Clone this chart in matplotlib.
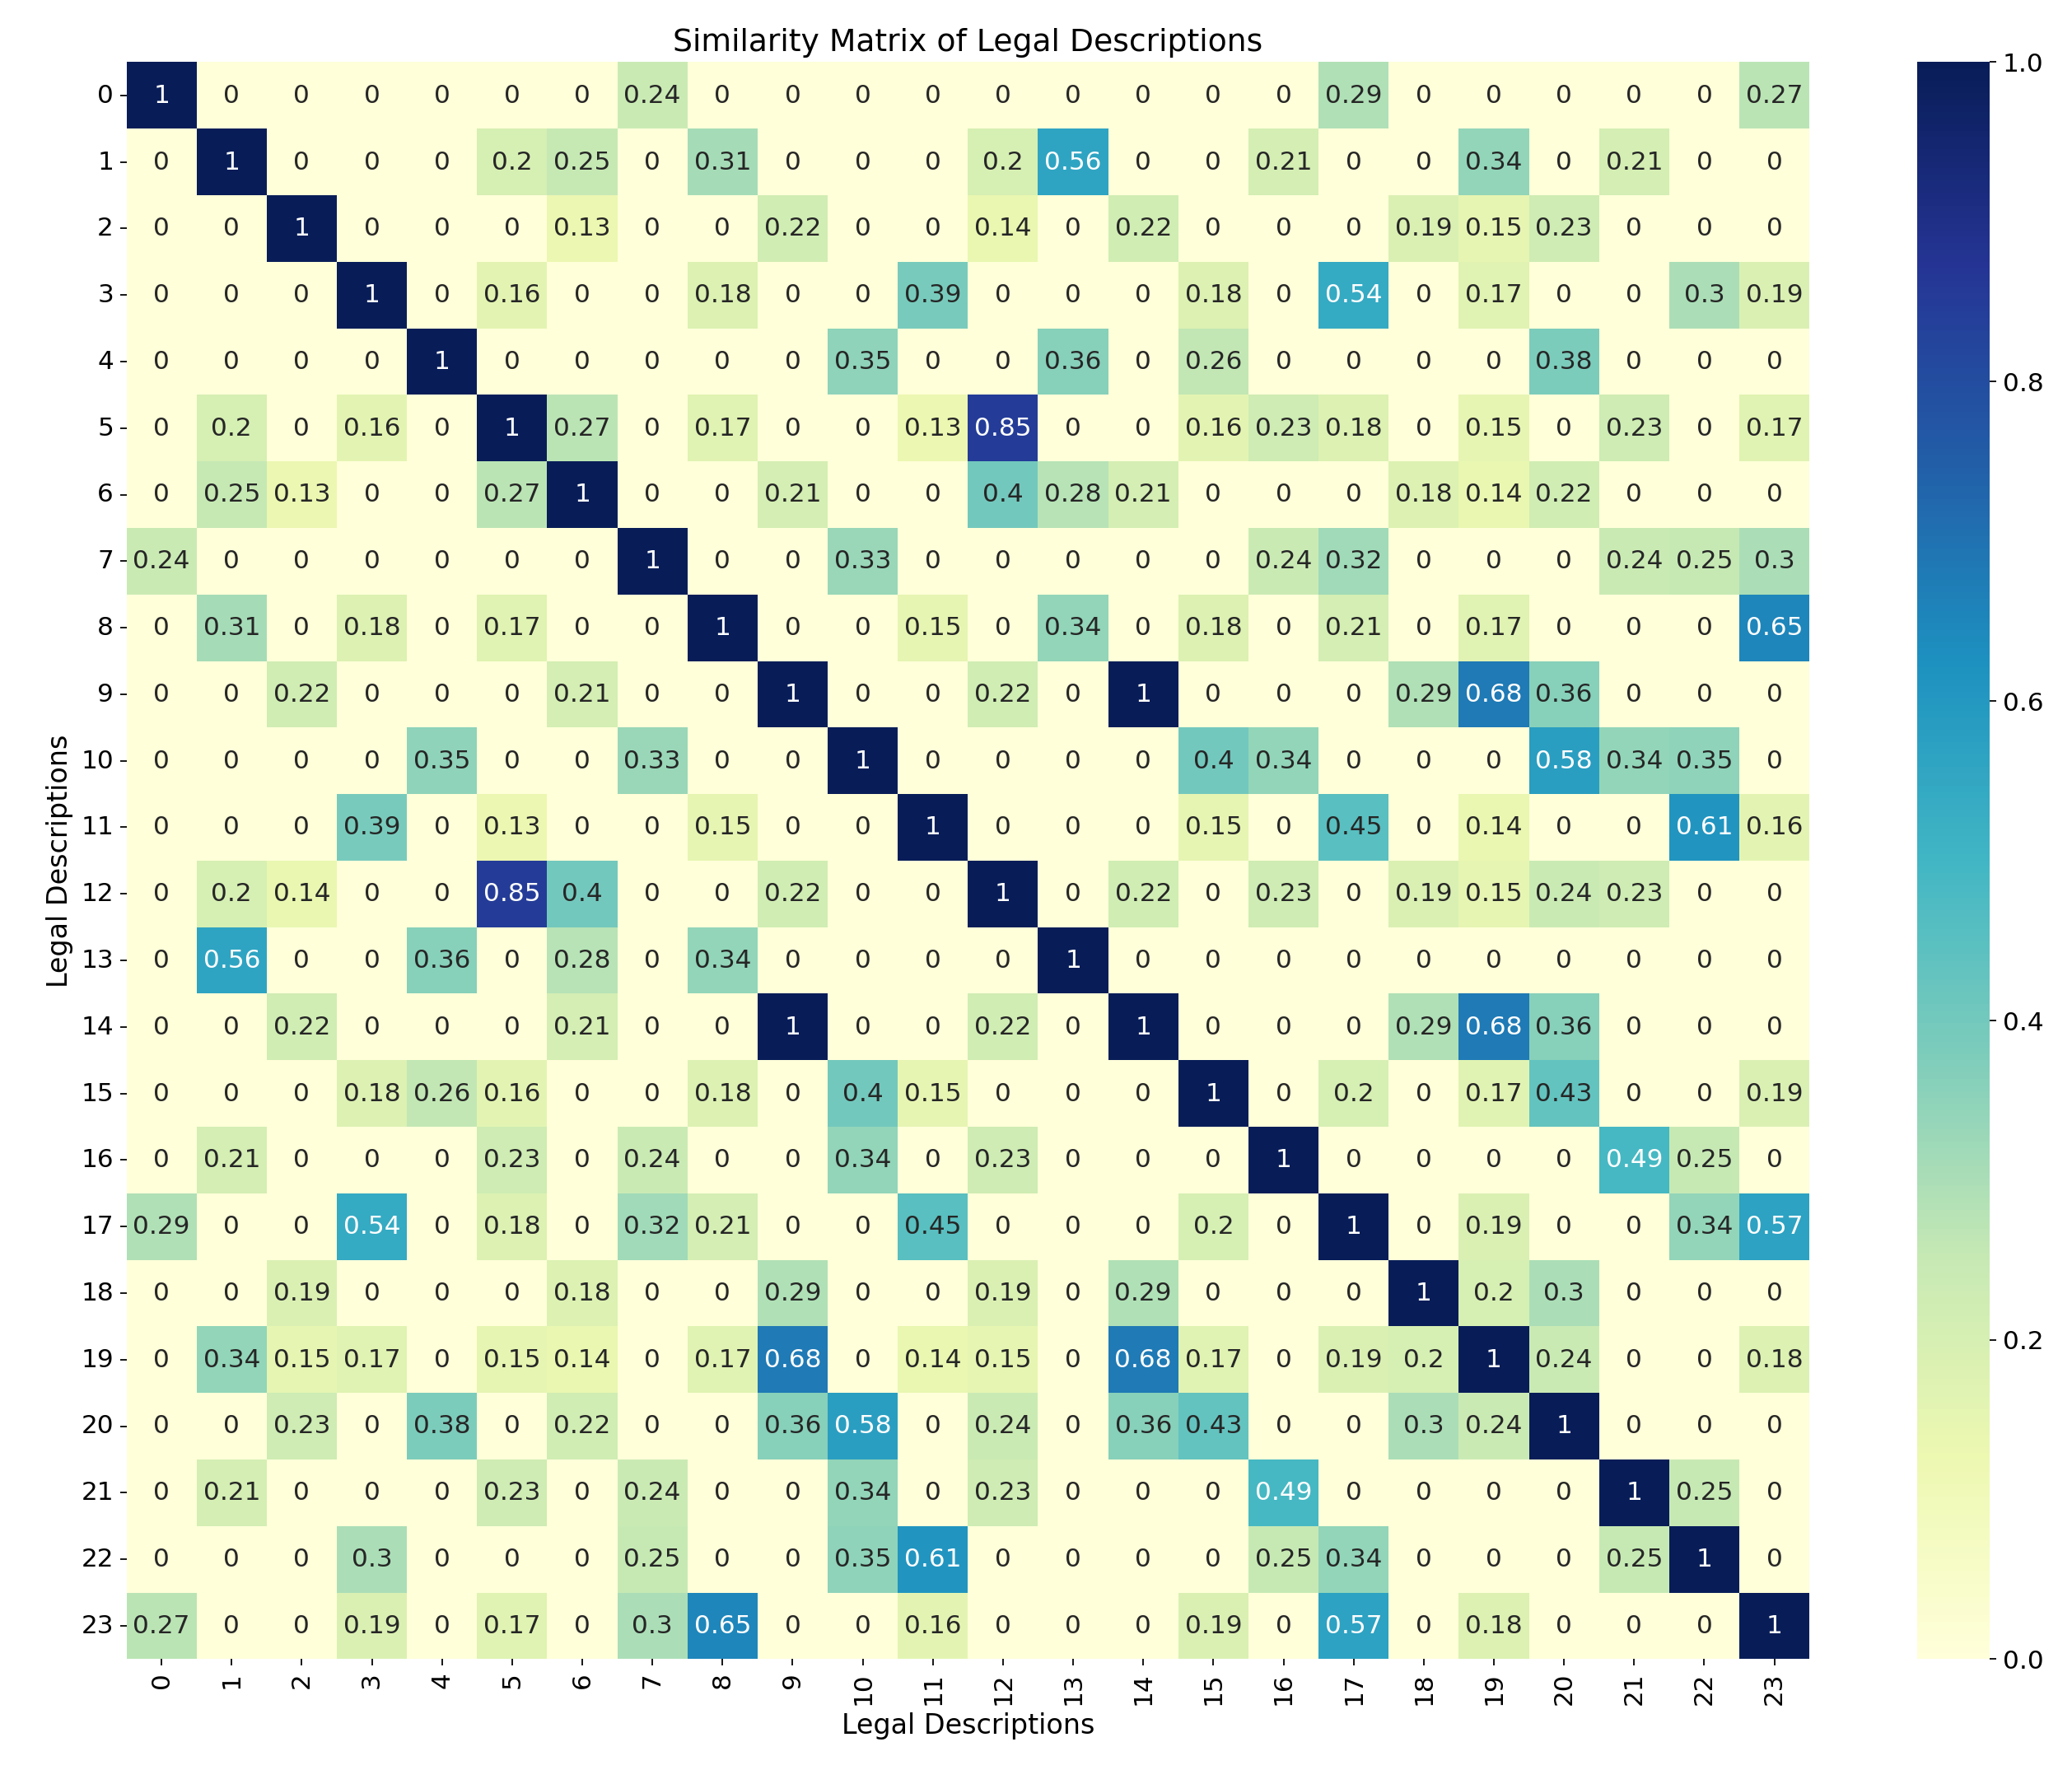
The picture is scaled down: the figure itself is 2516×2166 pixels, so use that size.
import numpy as np
import matplotlib
matplotlib.use("Agg")
import matplotlib.pyplot as plt
import seaborn as sns

labels = [str(i) for i in range(24)]

# similarity values, one row per legal description
rows = [
    [1, 0, 0, 0, 0, 0, 0, 0.24, 0, 0, 0, 0, 0, 0, 0, 0, 0, 0.29, 0, 0, 0, 0, 0, 0.27],
    [0, 1, 0, 0, 0, 0.2, 0.25, 0, 0.31, 0, 0, 0, 0.2, 0.56, 0, 0, 0.21, 0, 0, 0.34, 0, 0.21, 0, 0],
    [0, 0, 1, 0, 0, 0, 0.13, 0, 0, 0.22, 0, 0, 0.14, 0, 0.22, 0, 0, 0, 0.19, 0.15, 0.23, 0, 0, 0],
    [0, 0, 0, 1, 0, 0.16, 0, 0, 0.18, 0, 0, 0.39, 0, 0, 0, 0.18, 0, 0.54, 0, 0.17, 0, 0, 0.3, 0.19],
    [0, 0, 0, 0, 1, 0, 0, 0, 0, 0, 0.35, 0, 0, 0.36, 0, 0.26, 0, 0, 0, 0, 0.38, 0, 0, 0],
    [0, 0.2, 0, 0.16, 0, 1, 0.27, 0, 0.17, 0, 0, 0.13, 0.85, 0, 0, 0.16, 0.23, 0.18, 0, 0.15, 0, 0.23, 0, 0.17],
    [0, 0.25, 0.13, 0, 0, 0.27, 1, 0, 0, 0.21, 0, 0, 0.4, 0.28, 0.21, 0, 0, 0, 0.18, 0.14, 0.22, 0, 0, 0],
    [0.24, 0, 0, 0, 0, 0, 0, 1, 0, 0, 0.33, 0, 0, 0, 0, 0, 0.24, 0.32, 0, 0, 0, 0.24, 0.25, 0.3],
    [0, 0.31, 0, 0.18, 0, 0.17, 0, 0, 1, 0, 0, 0.15, 0, 0.34, 0, 0.18, 0, 0.21, 0, 0.17, 0, 0, 0, 0.65],
    [0, 0, 0.22, 0, 0, 0, 0.21, 0, 0, 1, 0, 0, 0.22, 0, 1, 0, 0, 0, 0.29, 0.68, 0.36, 0, 0, 0],
    [0, 0, 0, 0, 0.35, 0, 0, 0.33, 0, 0, 1, 0, 0, 0, 0, 0.4, 0.34, 0, 0, 0, 0.58, 0.34, 0.35, 0],
    [0, 0, 0, 0.39, 0, 0.13, 0, 0, 0.15, 0, 0, 1, 0, 0, 0, 0.15, 0, 0.45, 0, 0.14, 0, 0, 0.61, 0.16],
    [0, 0.2, 0.14, 0, 0, 0.85, 0.4, 0, 0, 0.22, 0, 0, 1, 0, 0.22, 0, 0.23, 0, 0.19, 0.15, 0.24, 0.23, 0, 0],
    [0, 0.56, 0, 0, 0.36, 0, 0.28, 0, 0.34, 0, 0, 0, 0, 1, 0, 0, 0, 0, 0, 0, 0, 0, 0, 0],
    [0, 0, 0.22, 0, 0, 0, 0.21, 0, 0, 1, 0, 0, 0.22, 0, 1, 0, 0, 0, 0.29, 0.68, 0.36, 0, 0, 0],
    [0, 0, 0, 0.18, 0.26, 0.16, 0, 0, 0.18, 0, 0.4, 0.15, 0, 0, 0, 1, 0, 0.2, 0, 0.17, 0.43, 0, 0, 0.19],
    [0, 0.21, 0, 0, 0, 0.23, 0, 0.24, 0, 0, 0.34, 0, 0.23, 0, 0, 0, 1, 0, 0, 0, 0, 0.49, 0.25, 0],
    [0.29, 0, 0, 0.54, 0, 0.18, 0, 0.32, 0.21, 0, 0, 0.45, 0, 0, 0, 0.2, 0, 1, 0, 0.19, 0, 0, 0.34, 0.57],
    [0, 0, 0.19, 0, 0, 0, 0.18, 0, 0, 0.29, 0, 0, 0.19, 0, 0.29, 0, 0, 0, 1, 0.2, 0.3, 0, 0, 0],
    [0, 0.34, 0.15, 0.17, 0, 0.15, 0.14, 0, 0.17, 0.68, 0, 0.14, 0.15, 0, 0.68, 0.17, 0, 0.19, 0.2, 1, 0.24, 0, 0, 0.18],
    [0, 0, 0.23, 0, 0.38, 0, 0.22, 0, 0, 0.36, 0.58, 0, 0.24, 0, 0.36, 0.43, 0, 0, 0.3, 0.24, 1, 0, 0, 0],
    [0, 0.21, 0, 0, 0, 0.23, 0, 0.24, 0, 0, 0.34, 0, 0.23, 0, 0, 0, 0.49, 0, 0, 0, 0, 1, 0.25, 0],
    [0, 0, 0, 0.3, 0, 0, 0, 0.25, 0, 0, 0.35, 0.61, 0, 0, 0, 0, 0.25, 0.34, 0, 0, 0, 0.25, 1, 0],
    [0.27, 0, 0, 0.19, 0, 0.17, 0, 0.3, 0.65, 0, 0, 0.16, 0, 0, 0, 0.19, 0, 0.57, 0, 0.18, 0, 0, 0, 1],
]
sim = np.array(rows)

fig = plt.figure(figsize=(15.73, 13.54), dpi=160)
ax = fig.add_axes([0.061, 0.070, 0.812, 0.895])
cax = fig.add_axes([0.925, 0.070, 0.035, 0.895])

sns.heatmap(sim, annot=True, cmap="YlGnBu", vmin=0, vmax=1,
            xticklabels=labels, yticklabels=labels,
            annot_kws={"fontsize": 14}, ax=ax, cbar_ax=cax)

ax.set_title("Similarity Matrix of Legal Descriptions", fontsize=17)
ax.set_xlabel("Legal Descriptions", fontsize=15)
ax.set_ylabel("Legal Descriptions", fontsize=15)
ax.tick_params(labelsize=14)
plt.setp(ax.get_xticklabels(), rotation=90)
plt.setp(ax.get_yticklabels(), rotation=0)
cax.tick_params(labelsize=14)

fig.savefig("out.png", dpi=160)
